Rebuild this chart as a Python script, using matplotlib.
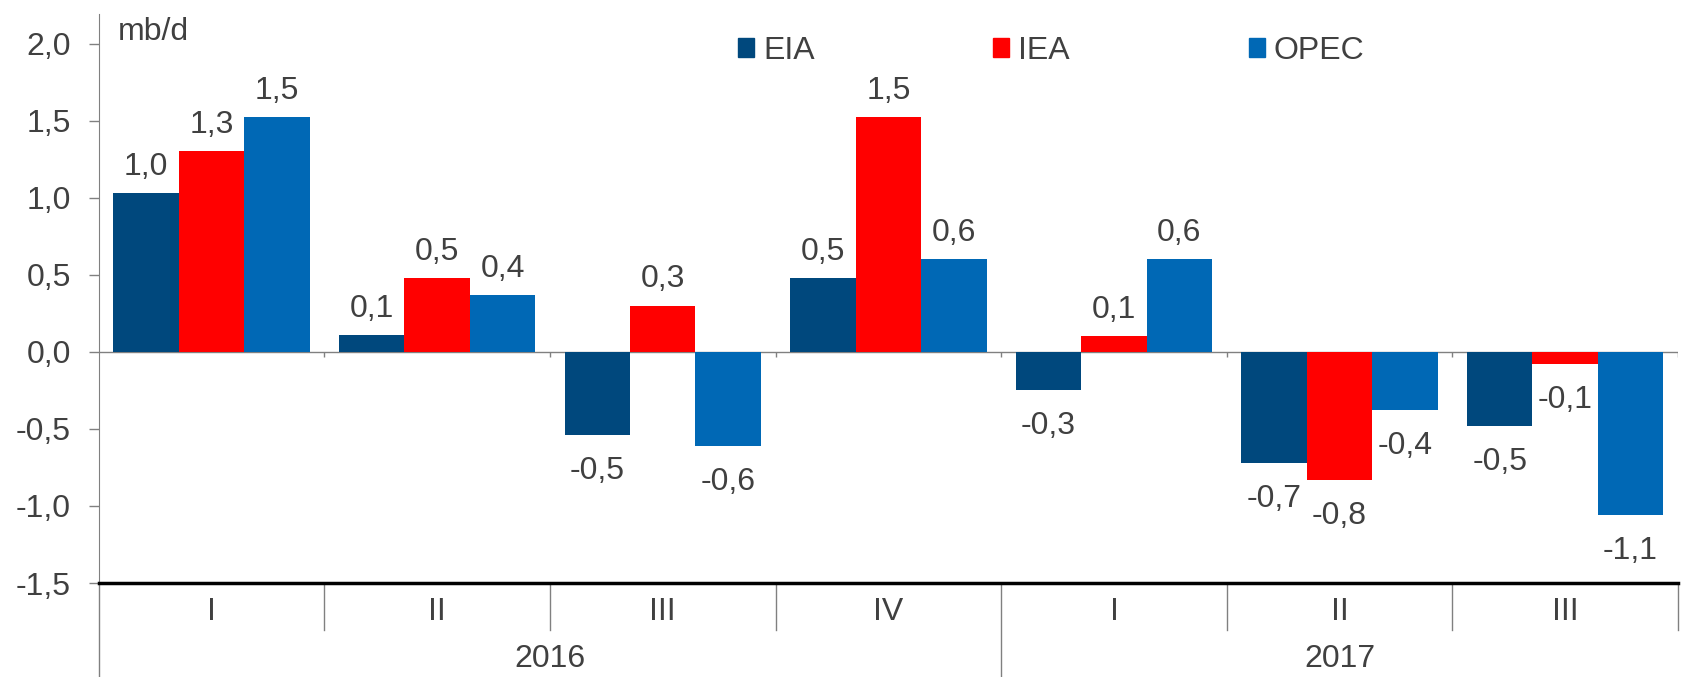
import matplotlib.pyplot as plt
import matplotlib.transforms as mtransforms
from matplotlib.patches import Patch
import numpy as np

plt.rcParams['font.family'] = ['Liberation Sans', 'DejaVu Sans']

# data
quarters = ['I', 'II', 'III', 'IV', 'I', 'II', 'III']
years = ['2016', '2017']
year_spans = [(0, 3), (4, 6)]
eia = [1.03, 0.11, -0.54, 0.48, -0.25, -0.72, -0.48]
iea = [1.30, 0.48, 0.30, 1.52, 0.10, -0.83, -0.08]
opec = [1.52, 0.37, -0.61, 0.60, 0.60, -0.38, -1.06]
eia_lbl = ['1,0', '0,1', '-0,5', '0,5', '-0,3', '-0,7', '-0,5']
iea_lbl = ['1,3', '0,5', '0,3', '1,5', '0,1', '-0,8', '-0,1']
opec_lbl = ['1,5', '0,4', '-0,6', '0,6', '0,6', '-0,4', '-1,1']
yticks = [-1.5, -1.0, -0.5, 0.0, 0.5, 1.0, 1.5, 2.0]

txt = '#404040'
grey = '#808080'
fs = 23
colors = ['#00487d', '#ff0000', '#0068b5']

fig = plt.figure(figsize=(16.83, 6.77), dpi=100)
ax = fig.add_axes([0.0587, 0.1388, 0.9383, 0.8402])

x = np.arange(len(quarters))
w = 0.29
series = [(eia, eia_lbl, 'EIA'), (iea, iea_lbl, 'IEA'), (opec, opec_lbl, 'OPEC')]
for k, (vals, lbls, name) in enumerate(series):
    xs = x + (k - 1) * w
    ax.bar(xs, vals, w, color=colors[k], edgecolor='none', zorder=2)
    for xi, v, l in zip(xs, vals, lbls):
        if v >= 0:
            ax.annotate(l, (xi, v), xytext=(0, 8), textcoords='offset points',
                        ha='center', va='bottom', fontsize=fs, color=txt)
        else:
            ax.annotate(l, (xi, v), xytext=(0, -15), textcoords='offset points',
                        ha='center', va='top', fontsize=fs, color=txt)

ax.set_xlim(-0.5, len(quarters) - 0.5)
ax.set_ylim(-1.5, 2.19)
ax.set_yticks(yticks)
ax.set_yticklabels([f'{t:.1f}'.replace('.', ',') for t in yticks])
ax.tick_params(axis='y', length=7, width=1, color=grey, pad=13,
               labelsize=fs, labelcolor=txt)
ax.set_xticks([])

for s in ['top', 'right']:
    ax.spines[s].set_visible(False)
ax.spines['left'].set_color(grey)
ax.spines['bottom'].set_color('black')
ax.spines['bottom'].set_linewidth(2.5)

# zero line with small boundary ticks
ax.axhline(0, color=grey, lw=1, zorder=1)
bounds = np.arange(len(quarters) + 1) - 0.5
ax.vlines(bounds[1:], -0.035, 0, color=grey, lw=1, zorder=1)

# category axis below
trans = mtransforms.blended_transform_factory(ax.transData, ax.transAxes)
for b in bounds:
    low = -0.165 if b in (-0.5, 3.5) else -0.0826
    ax.plot([b, b], [0, low], transform=trans, color=grey, lw=1, clip_on=False)
for xi, q in zip(x, quarters):
    ax.text(xi, -0.051, q, transform=trans, ha='center', va='center',
            fontsize=fs, color=txt)
for (a, b), yr in zip(year_spans, years):
    ax.text((a + b) / 2, -0.133, yr, transform=trans, ha='center', va='center',
            fontsize=fs, color=txt)

ax.text(0.012, 0.995, 'mb/d', transform=ax.transAxes, ha='left', va='top',
        fontsize=fs, color=txt)

handles = [Patch(color=c) for c in colors]
fig.legend(handles, [s[2] for s in series], loc='center left',
           bbox_to_anchor=(0.4385, 0.925), ncol=3, frameon=False,
           fontsize=fs, labelcolor=txt, handlelength=0.5, handleheight=0.5,
           handletextpad=0.28, columnspacing=5.6, borderpad=0, borderaxespad=0)

fig.savefig('out.png', dpi=100)
